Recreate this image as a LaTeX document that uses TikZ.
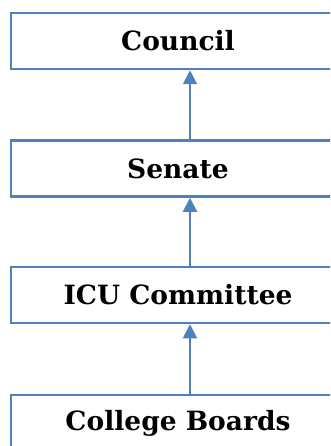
\documentclass[tikz,border=0pt]{standalone}
\usepackage{fontspec}
\setmainfont{DejaVu Serif}
\usetikzlibrary{arrows.meta}
\definecolor{boxblue}{RGB}{79,129,189}

\begin{document}
\begin{tikzpicture}[x=1pt,y=-1pt,
		level/.style={draw=boxblue, line width=2.5pt, minimum width=334pt, minimum height=56pt,
			inner sep=0pt, font=\fontsize{26.5}{30}\selectfont\bfseries},
		up/.style={draw=boxblue, line width=2pt, -{Triangle[width=14pt,length=14pt]}}]
		\useasboundingbox (0,0) rectangle (330,446);
		\clip (0,0) rectangle (330,446);
		\node[level] (council) at (178,41) {Council};
		\node[level] (senate) at (178,168.5) {Senate};
		\node[level] (icu) at (178,295) {ICU Committee};
		\node[level] (boards) at (178,423) {College Boards};
		\foreach \lo/\hi in {senate/council, icu/senate, boards/icu}{
			\draw[up] ([xshift=12pt]\lo.north) -- ([xshift=12pt]\hi.south);
		}
		\end{tikzpicture}
\end{document}
